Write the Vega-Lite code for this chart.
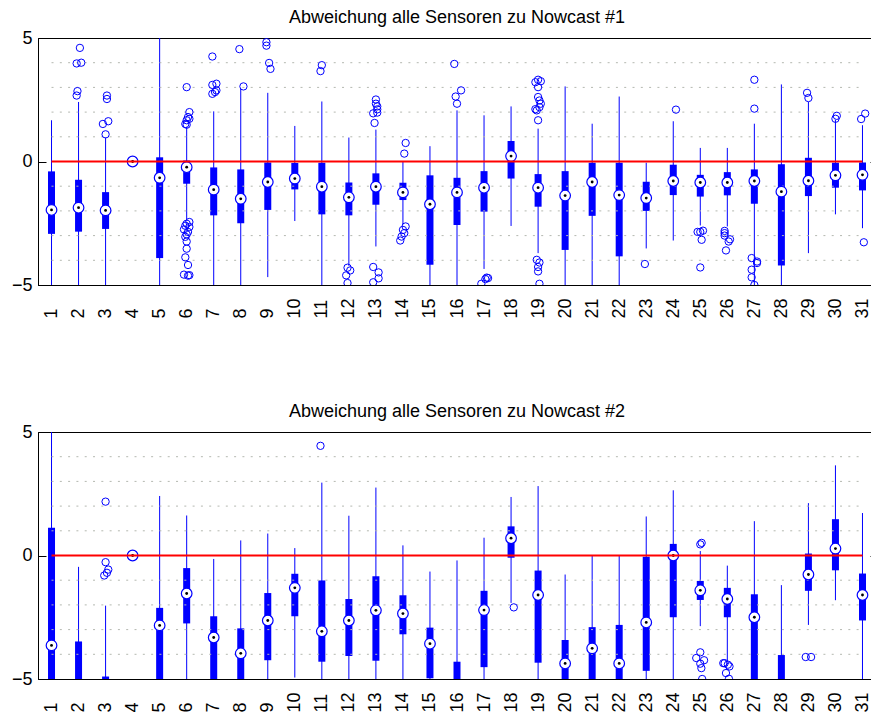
{
  "$schema": "https://vega.github.io/schema/vega-lite/v6.json",
  "padding": {"left": 10, "top": 8, "right": 0, "bottom": 0},
  "background": "white",
  "config": {
    "font": "Liberation Sans",
    "view": {"stroke": "black", "strokeWidth": 1},
    "title": {"font": "Liberation Sans", "fontSize": 18, "fontWeight": "normal", "color": "black", "offset": 2, "anchor": "middle"},
    "axis": {"labelFont": "Liberation Sans", "labelFontSize": 18, "labelColor": "black", "domainColor": "black", "tickColor": "black", "title": null, "labelOverlap": false},
    "axisX": {"ticks": false, "grid": false, "labelAngle": 270, "labelAlign": "left", "labelBaseline": "middle", "labelPadding": 33, "labelFlush": false, "labelOverlap": false, "labelSeparation": 0}
  },
  "datasets": {
    "top_box": [
      {"g": 1, "lo": -5, "q1": -2.93, "med": -1.96, "q3": -0.40, "hi": 1.67},
      {"g": 2, "lo": -5, "q1": -2.84, "med": -1.87, "q3": -0.74, "hi": 2.41},
      {"g": 3, "lo": -5, "q1": -2.73, "med": -1.98, "q3": -1.24, "hi": 0.97},
      {"g": 4, "lo": 0, "q1": 0, "med": 0, "q3": 0, "hi": 0},
      {"g": 5, "lo": -5, "q1": -3.91, "med": -0.66, "q3": 0.17, "hi": 5},
      {"g": 6, "lo": -2.37, "q1": -0.90, "med": -0.23, "q3": 0.04, "hi": 1.40},
      {"g": 7, "lo": -5, "q1": -2.18, "med": -1.14, "q3": -0.24, "hi": 2.03},
      {"g": 8, "lo": -5, "q1": -2.50, "med": -1.51, "q3": -0.32, "hi": 2.95},
      {"g": 9, "lo": -4.68, "q1": -1.96, "med": -0.83, "q3": -0.04, "hi": 2.78},
      {"g": 10, "lo": -2.41, "q1": -1.13, "med": -0.69, "q3": -0.06, "hi": 1.44},
      {"g": 11, "lo": -5, "q1": -2.14, "med": -1.02, "q3": -0.05, "hi": 2.43},
      {"g": 12, "lo": -4.22, "q1": -2.18, "med": -1.45, "q3": -0.85, "hi": 0.97},
      {"g": 13, "lo": -3.44, "q1": -1.75, "med": -1.02, "q3": -0.48, "hi": 1.29},
      {"g": 14, "lo": -2.55, "q1": -1.56, "med": -1.25, "q3": -0.86, "hi": 0.0},
      {"g": 15, "lo": -5, "q1": -4.18, "med": -1.73, "q3": -0.56, "hi": 0.62},
      {"g": 16, "lo": -5, "q1": -2.57, "med": -1.25, "q3": -0.66, "hi": 2.07},
      {"g": 17, "lo": -4.35, "q1": -2.03, "med": -1.06, "q3": -0.39, "hi": 1.87},
      {"g": 18, "lo": -2.61, "q1": -0.69, "med": 0.22, "q3": 0.83, "hi": 2.23},
      {"g": 19, "lo": -3.71, "q1": -1.83, "med": -1.06, "q3": -0.51, "hi": 1.33},
      {"g": 20, "lo": -5, "q1": -3.58, "med": -1.38, "q3": -0.39, "hi": 3.04},
      {"g": 21, "lo": -5, "q1": -2.20, "med": -0.83, "q3": -0.05, "hi": 1.53},
      {"g": 22, "lo": -5, "q1": -3.84, "med": -1.36, "q3": -0.05, "hi": 2.63},
      {"g": 23, "lo": -3.52, "q1": -2.00, "med": -1.48, "q3": -0.82, "hi": -0.05},
      {"g": 24, "lo": -3.20, "q1": -1.36, "med": -0.79, "q3": -0.13, "hi": 1.63},
      {"g": 25, "lo": -2.59, "q1": -1.42, "med": -0.85, "q3": -0.54, "hi": 0.55},
      {"g": 26, "lo": -2.63, "q1": -1.37, "med": -0.85, "q3": -0.43, "hi": 0.55},
      {"g": 27, "lo": -5, "q1": -1.71, "med": -0.79, "q3": -0.32, "hi": 1.53},
      {"g": 28, "lo": -5, "q1": -4.21, "med": -1.22, "q3": -0.11, "hi": 3.12},
      {"g": 29, "lo": -3.71, "q1": -1.40, "med": -0.78, "q3": 0.15, "hi": 2.41},
      {"g": 30, "lo": -2.14, "q1": -1.06, "med": -0.56, "q3": -0.05, "hi": 1.69},
      {"g": 31, "lo": -2.70, "q1": -1.17, "med": -0.54, "q3": -0.04, "hi": 1.47}
    ],
    "top_out": [
      {"x": 1.93, "v": 2.67}, {"x": 1.96, "v": 2.85}, {"x": 1.93, "v": 3.97}, {"x": 2.1, "v": 4.0}, {"x": 2.05, "v": 4.6},
      {"x": 3.0, "v": 1.10}, {"x": 2.9, "v": 1.52}, {"x": 3.1, "v": 1.63}, {"x": 3.05, "v": 2.53}, {"x": 3.05, "v": 2.67},
      {"x": 6.0, "v": 3.01}, {"x": 6.1, "v": 2.0}, {"x": 6.05, "v": 1.8}, {"x": 6.1, "v": 1.73}, {"x": 6.0, "v": 1.67}, {"x": 5.95, "v": 1.52}, {"x": 6.0, "v": 1.49},
      {"x": 6.1, "v": -2.45}, {"x": 6.0, "v": -2.52}, {"x": 5.95, "v": -2.6}, {"x": 6.1, "v": -2.65}, {"x": 5.9, "v": -2.75}, {"x": 6.05, "v": -2.85}, {"x": 6.0, "v": -2.95}, {"x": 5.95, "v": -3.05}, {"x": 6.0, "v": -3.24}, {"x": 6.0, "v": -3.53}, {"x": 5.95, "v": -3.88}, {"x": 6.05, "v": -4.19}, {"x": 5.9, "v": -4.58}, {"x": 6.1, "v": -4.6}, {"x": 6.05, "v": -4.62},
      {"x": 6.95, "v": 2.74}, {"x": 7.05, "v": 2.81}, {"x": 7.1, "v": 2.88}, {"x": 6.95, "v": 3.1}, {"x": 7.1, "v": 3.15}, {"x": 6.95, "v": 4.25},
      {"x": 8.1, "v": 3.04}, {"x": 7.95, "v": 4.55},
      {"x": 9.1, "v": 3.75}, {"x": 9.05, "v": 3.99}, {"x": 8.95, "v": 4.69}, {"x": 8.95, "v": 4.83},
      {"x": 10.95, "v": 3.66}, {"x": 11.0, "v": 3.9},
      {"x": 11.95, "v": -4.3}, {"x": 12.05, "v": -4.41}, {"x": 11.9, "v": -4.61}, {"x": 11.95, "v": -4.92},
      {"x": 12.95, "v": 1.56}, {"x": 12.9, "v": 1.95}, {"x": 13.05, "v": 1.98}, {"x": 13.05, "v": 2.11}, {"x": 13.05, "v": 2.23}, {"x": 13.0, "v": 2.34}, {"x": 13.0, "v": 2.51},
      {"x": 12.9, "v": -4.27}, {"x": 13.1, "v": -4.49}, {"x": 13.1, "v": -4.73}, {"x": 12.9, "v": -4.89},
      {"x": 14.05, "v": 0.32}, {"x": 14.1, "v": 0.75}, {"x": 14.1, "v": -2.63}, {"x": 14.0, "v": -2.77}, {"x": 14.05, "v": -2.9}, {"x": 13.95, "v": -3.04}, {"x": 13.9, "v": -3.2},
      {"x": 16.0, "v": 2.34}, {"x": 16.15, "v": 2.88}, {"x": 15.95, "v": 2.63}, {"x": 15.9, "v": 3.95},
      {"x": 16.9, "v": -4.95}, {"x": 17.05, "v": -4.76}, {"x": 17.1, "v": -4.7}, {"x": 17.15, "v": -4.72},
      {"x": 19.0, "v": 1.67}, {"x": 18.95, "v": 2.07}, {"x": 18.9, "v": 2.12}, {"x": 19.05, "v": 2.2}, {"x": 19.1, "v": 2.34}, {"x": 19.05, "v": 2.47}, {"x": 19.0, "v": 2.61}, {"x": 19.0, "v": 3.01}, {"x": 18.9, "v": 3.21}, {"x": 19.1, "v": 3.25}, {"x": 19.0, "v": 3.31},
      {"x": 18.95, "v": -3.98}, {"x": 19.05, "v": -4.09}, {"x": 19.0, "v": -4.27}, {"x": 19.0, "v": -4.45}, {"x": 19.05, "v": -4.95},
      {"x": 22.95, "v": -4.15},
      {"x": 24.1, "v": 2.1},
      {"x": 24.9, "v": -2.85}, {"x": 25.0, "v": -2.85}, {"x": 25.1, "v": -2.8}, {"x": 25.05, "v": -3.17}, {"x": 25.0, "v": -4.29},
      {"x": 25.9, "v": -2.81}, {"x": 25.9, "v": -2.9}, {"x": 25.9, "v": -3.0}, {"x": 26.1, "v": -3.15}, {"x": 26.05, "v": -3.24}, {"x": 25.95, "v": -3.6},
      {"x": 27.0, "v": 2.14}, {"x": 27.0, "v": 3.31}, {"x": 26.9, "v": -3.91}, {"x": 27.1, "v": -4.05}, {"x": 27.1, "v": -4.11}, {"x": 26.9, "v": -4.38}, {"x": 26.9, "v": -4.69}, {"x": 27.0, "v": -5.0},
      {"x": 28.95, "v": 2.78}, {"x": 29.0, "v": 2.57},
      {"x": 30.0, "v": 1.73}, {"x": 30.05, "v": 1.85},
      {"x": 30.95, "v": 1.72}, {"x": 31.1, "v": 1.94}, {"x": 31.05, "v": -3.27}
    ],
    "bot_box": [
      {"g": 1, "lo": -5, "q1": -5, "med": -3.64, "q3": 1.12, "hi": 5},
      {"g": 2, "lo": -5, "q1": -5, "med": null, "q3": -3.48, "hi": -0.46},
      {"g": 3, "lo": -5, "q1": -5, "med": null, "q3": -4.9, "hi": -2.03},
      {"g": 4, "lo": 0, "q1": 0, "med": 0, "q3": 0, "hi": 0},
      {"g": 5, "lo": -5, "q1": -5, "med": -2.83, "q3": -2.12, "hi": 2.41},
      {"g": 6, "lo": -5, "q1": -2.75, "med": -1.54, "q3": -0.51, "hi": 1.62},
      {"g": 7, "lo": -5, "q1": -5, "med": -3.32, "q3": -2.46, "hi": -0.14},
      {"g": 8, "lo": -5, "q1": -5, "med": -3.96, "q3": -2.95, "hi": 0.61},
      {"g": 9, "lo": -5, "q1": -4.24, "med": -2.63, "q3": -1.52, "hi": 0.89},
      {"g": 10, "lo": -4.94, "q1": -2.46, "med": -1.31, "q3": -0.74, "hi": 0.3},
      {"g": 11, "lo": -5, "q1": -4.3, "med": -3.07, "q3": -1.01, "hi": 2.95},
      {"g": 12, "lo": -5, "q1": -4.07, "med": -2.63, "q3": -1.76, "hi": 1.61},
      {"g": 13, "lo": -5, "q1": -4.26, "med": -2.22, "q3": -0.84, "hi": 2.75},
      {"g": 14, "lo": -5, "q1": -3.19, "med": -2.35, "q3": -1.61, "hi": 0.41},
      {"g": 15, "lo": -5, "q1": -4.97, "med": -3.57, "q3": -2.92, "hi": -0.65},
      {"g": 16, "lo": -5, "q1": -5, "med": null, "q3": -4.3, "hi": -0.2},
      {"g": 17, "lo": -5, "q1": -4.52, "med": -2.21, "q3": -1.43, "hi": 0.72},
      {"g": 18, "lo": -1.92, "q1": -0.09, "med": 0.7, "q3": 1.18, "hi": 2.37},
      {"g": 19, "lo": -5, "q1": -4.34, "med": -1.6, "q3": -0.61, "hi": 2.81},
      {"g": 20, "lo": -5, "q1": -5, "med": -4.37, "q3": -3.42, "hi": -0.77},
      {"g": 21, "lo": -5, "q1": -5, "med": -3.76, "q3": -2.9, "hi": 0},
      {"g": 22, "lo": -5, "q1": -5, "med": -4.37, "q3": -2.81, "hi": 0},
      {"g": 23, "lo": -5, "q1": -4.67, "med": -2.71, "q3": -0.05, "hi": 1.58},
      {"g": 24, "lo": -5, "q1": -2.5, "med": 0, "q3": 0.47, "hi": 2.64},
      {"g": 25, "lo": -2.86, "q1": -1.8, "med": -1.41, "q3": -1.03, "hi": 0.18},
      {"g": 26, "lo": -4.29, "q1": -2.5, "med": -1.76, "q3": -1.31, "hi": -0.41},
      {"g": 27, "lo": -5, "q1": -5, "med": -2.5, "q3": -1.57, "hi": 1.39},
      {"g": 28, "lo": -5, "q1": -5, "med": null, "q3": -4.03, "hi": -1.2},
      {"g": 29, "lo": -2.81, "q1": -1.43, "med": -0.77, "q3": 0.08, "hi": 2.12},
      {"g": 30, "lo": -1.81, "q1": -0.6, "med": 0.28, "q3": 1.47, "hi": 3.65},
      {"g": 31, "lo": -5, "q1": -2.63, "med": -1.6, "q3": -0.73, "hi": 1.72}
    ],
    "bot_out": [
      {"x": 3.0, "v": 2.18}, {"x": 3.0, "v": -0.27}, {"x": 3.1, "v": -0.57}, {"x": 3.05, "v": -0.7}, {"x": 2.95, "v": -0.81},
      {"x": 10.95, "v": 4.44},
      {"x": 18.1, "v": -2.1},
      {"x": 25.05, "v": 0.51}, {"x": 25.0, "v": 0.45}, {"x": 25.0, "v": -3.92}, {"x": 24.85, "v": -4.15}, {"x": 25.14, "v": -4.24}, {"x": 25.0, "v": -4.38}, {"x": 25.04, "v": -4.56}, {"x": 25.07, "v": -5.0},
      {"x": 25.9, "v": -4.36}, {"x": 26.02, "v": -4.42}, {"x": 26.08, "v": -4.49}, {"x": 25.95, "v": -4.76}, {"x": 26.06, "v": -4.99}, {"x": 25.85, "v": -4.36},
      {"x": 28.9, "v": -4.11}, {"x": 29.1, "v": -4.11}
    ],
    "grid": [
      {"gy": -4}, {"gy": -3}, {"gy": -2}, {"gy": -1}, {"gy": 1}, {"gy": 2}, {"gy": 3}, {"gy": 4}
    ]
  },
  "vconcat": [
    {
      "title": {"text": "Abweichung alle Sensoren zu Nowcast #1"},
      "width": 838,
      "height": 247,
      "resolve": {"axis": {"y": "independent"}},
      "layer": [
        {
          "data": {"name": "top_box"},
          "mark": {"type": "rule", "color": "#0000ff", "strokeWidth": 1, "clip": true},
          "encoding": {
            "x": {"field": "g", "type": "quantitative", "scale": {"domain": [0.5, 31.5], "nice": false, "zero": false}, "axis": {"values": [1,2,3,4,5,6,7,8,9,10,11,12,13,14,15,16,17,18,19,20,21,22,23,24,25,26,27,28,29,30,31], "labelOverlap": false, "format": "d"}},
            "y": {"field": "lo", "type": "quantitative", "scale": {"domain": [-5, 5], "nice": false, "zero": false},
                  "axis": {"values": [-5, 0, 5], "grid": false, "tickSize": -8, "labelPadding": 14, "labelFlush": false, "zindex": 1}},
            "y2": {"field": "hi"}
          }
        },
        {
          "data": {"name": "top_box"},
          "mark": {"type": "rule", "color": "#0000ff", "strokeWidth": 7, "strokeCap": "butt", "clip": true},
          "encoding": {
            "x": {"field": "g", "type": "quantitative", "axis": {"values": [1,2,3,4,5,6,7,8,9,10,11,12,13,14,15,16,17,18,19,20,21,22,23,24,25,26,27,28,29,30,31], "labelOverlap": false, "format": "d"}},
            "y": {"field": "q1", "type": "quantitative", "axis": null},
            "y2": {"field": "q3"}
          }
        },
        {
          "data": {"name": "grid"},
          "mark": {"type": "rule", "color": "#b4b8b0", "strokeWidth": 1, "strokeDash": [2, 6.3]},
          "encoding": {
            "x": {"datum": 1, "type": "quantitative", "axis": {"values": [1,2,3,4,5,6,7,8,9,10,11,12,13,14,15,16,17,18,19,20,21,22,23,24,25,26,27,28,29,30,31], "labelOverlap": false, "format": "d"}},
            "x2": {"datum": 31},
            "y": {"field": "gy", "type": "quantitative", "axis": null}
          }
        },
        {
          "data": {"name": "top_box"},
          "mark": {"type": "point", "shape": "circle", "filled": true, "fill": "white", "stroke": "#0000ff", "strokeWidth": 1.2, "size": 113, "opacity": 1, "clip": true},
          "encoding": {
            "x": {"field": "g", "type": "quantitative", "axis": {"values": [1,2,3,4,5,6,7,8,9,10,11,12,13,14,15,16,17,18,19,20,21,22,23,24,25,26,27,28,29,30,31], "labelOverlap": false, "format": "d"}},
            "y": {"field": "med", "type": "quantitative", "axis": null}
          }
        },
        {
          "data": {"name": "top_box"},
          "mark": {"type": "circle", "color": "black", "size": 8, "opacity": 1, "clip": true},
          "encoding": {
            "x": {"field": "g", "type": "quantitative", "axis": {"values": [1,2,3,4,5,6,7,8,9,10,11,12,13,14,15,16,17,18,19,20,21,22,23,24,25,26,27,28,29,30,31], "labelOverlap": false, "format": "d"}},
            "y": {"field": "med", "type": "quantitative", "axis": null}
          }
        },
        {
          "data": {"name": "top_out"},
          "mark": {"type": "point", "shape": "circle", "filled": false, "stroke": "#0000ff", "strokeWidth": 1, "size": 54, "opacity": 1, "clip": true},
          "encoding": {
            "x": {"field": "x", "type": "quantitative", "axis": {"values": [1,2,3,4,5,6,7,8,9,10,11,12,13,14,15,16,17,18,19,20,21,22,23,24,25,26,27,28,29,30,31], "labelOverlap": false, "format": "d"}},
            "y": {"field": "v", "type": "quantitative", "axis": null}
          }
        },
        {
          "data": {"values": [{}]},
          "mark": {"type": "rule", "color": "#ff0000", "strokeWidth": 2},
          "encoding": {
            "x": {"datum": 1, "type": "quantitative", "axis": {"values": [1,2,3,4,5,6,7,8,9,10,11,12,13,14,15,16,17,18,19,20,21,22,23,24,25,26,27,28,29,30,31], "labelOverlap": false, "format": "d"}},
            "x2": {"datum": 31},
            "y": {"datum": 0, "type": "quantitative", "axis": {"orient": "right", "values": [-5, 0, 5], "labels": false, "domain": false, "grid": false, "tickSize": -6}}
          }
        }
      ]
    },
    {
      "title": {"text": "Abweichung alle Sensoren zu Nowcast #2"},
      "width": 838,
      "height": 247,
      "resolve": {"axis": {"y": "independent"}},
      "layer": [
        {
          "data": {"name": "bot_box"},
          "mark": {"type": "rule", "color": "#0000ff", "strokeWidth": 1, "clip": true},
          "encoding": {
            "x": {"field": "g", "type": "quantitative", "scale": {"domain": [0.5, 31.5], "nice": false, "zero": false}, "axis": {"values": [1,2,3,4,5,6,7,8,9,10,11,12,13,14,15,16,17,18,19,20,21,22,23,24,25,26,27,28,29,30,31], "labelOverlap": false, "format": "d"}},
            "y": {"field": "lo", "type": "quantitative", "scale": {"domain": [-5, 5], "nice": false, "zero": false},
                  "axis": {"values": [-5, 0, 5], "grid": false, "tickSize": -8, "labelPadding": 14, "labelFlush": false, "zindex": 1}},
            "y2": {"field": "hi"}
          }
        },
        {
          "data": {"name": "bot_box"},
          "mark": {"type": "rule", "color": "#0000ff", "strokeWidth": 7, "strokeCap": "butt", "clip": true},
          "encoding": {
            "x": {"field": "g", "type": "quantitative", "axis": {"values": [1,2,3,4,5,6,7,8,9,10,11,12,13,14,15,16,17,18,19,20,21,22,23,24,25,26,27,28,29,30,31], "labelOverlap": false, "format": "d"}},
            "y": {"field": "q1", "type": "quantitative", "axis": null},
            "y2": {"field": "q3"}
          }
        },
        {
          "data": {"name": "grid"},
          "mark": {"type": "rule", "color": "#b4b8b0", "strokeWidth": 1, "strokeDash": [2, 6.3]},
          "encoding": {
            "x": {"datum": 1, "type": "quantitative", "axis": {"values": [1,2,3,4,5,6,7,8,9,10,11,12,13,14,15,16,17,18,19,20,21,22,23,24,25,26,27,28,29,30,31], "labelOverlap": false, "format": "d"}},
            "x2": {"datum": 31},
            "y": {"field": "gy", "type": "quantitative", "axis": null}
          }
        },
        {
          "data": {"name": "bot_box"},
          "mark": {"type": "point", "shape": "circle", "filled": true, "fill": "white", "stroke": "#0000ff", "strokeWidth": 1.2, "size": 113, "opacity": 1, "clip": true},
          "encoding": {
            "x": {"field": "g", "type": "quantitative", "axis": {"values": [1,2,3,4,5,6,7,8,9,10,11,12,13,14,15,16,17,18,19,20,21,22,23,24,25,26,27,28,29,30,31], "labelOverlap": false, "format": "d"}},
            "y": {"field": "med", "type": "quantitative", "axis": null}
          }
        },
        {
          "data": {"name": "bot_box"},
          "mark": {"type": "circle", "color": "black", "size": 8, "opacity": 1, "clip": true},
          "encoding": {
            "x": {"field": "g", "type": "quantitative", "axis": {"values": [1,2,3,4,5,6,7,8,9,10,11,12,13,14,15,16,17,18,19,20,21,22,23,24,25,26,27,28,29,30,31], "labelOverlap": false, "format": "d"}},
            "y": {"field": "med", "type": "quantitative", "axis": null}
          }
        },
        {
          "data": {"name": "bot_out"},
          "mark": {"type": "point", "shape": "circle", "filled": false, "stroke": "#0000ff", "strokeWidth": 1, "size": 54, "opacity": 1, "clip": true},
          "encoding": {
            "x": {"field": "x", "type": "quantitative", "axis": {"values": [1,2,3,4,5,6,7,8,9,10,11,12,13,14,15,16,17,18,19,20,21,22,23,24,25,26,27,28,29,30,31], "labelOverlap": false, "format": "d"}},
            "y": {"field": "v", "type": "quantitative", "axis": null}
          }
        },
        {
          "data": {"values": [{}]},
          "mark": {"type": "rule", "color": "#ff0000", "strokeWidth": 2},
          "encoding": {
            "x": {"datum": 1, "type": "quantitative", "axis": {"values": [1,2,3,4,5,6,7,8,9,10,11,12,13,14,15,16,17,18,19,20,21,22,23,24,25,26,27,28,29,30,31], "labelOverlap": false, "format": "d"}},
            "x2": {"datum": 31},
            "y": {"datum": 0, "type": "quantitative", "axis": {"orient": "right", "values": [-5, 0, 5], "labels": false, "domain": false, "grid": false, "tickSize": -6}}
          }
        }
      ]
    }
  ],
  "spacing": 147,
  "bounds": "flush"
}
